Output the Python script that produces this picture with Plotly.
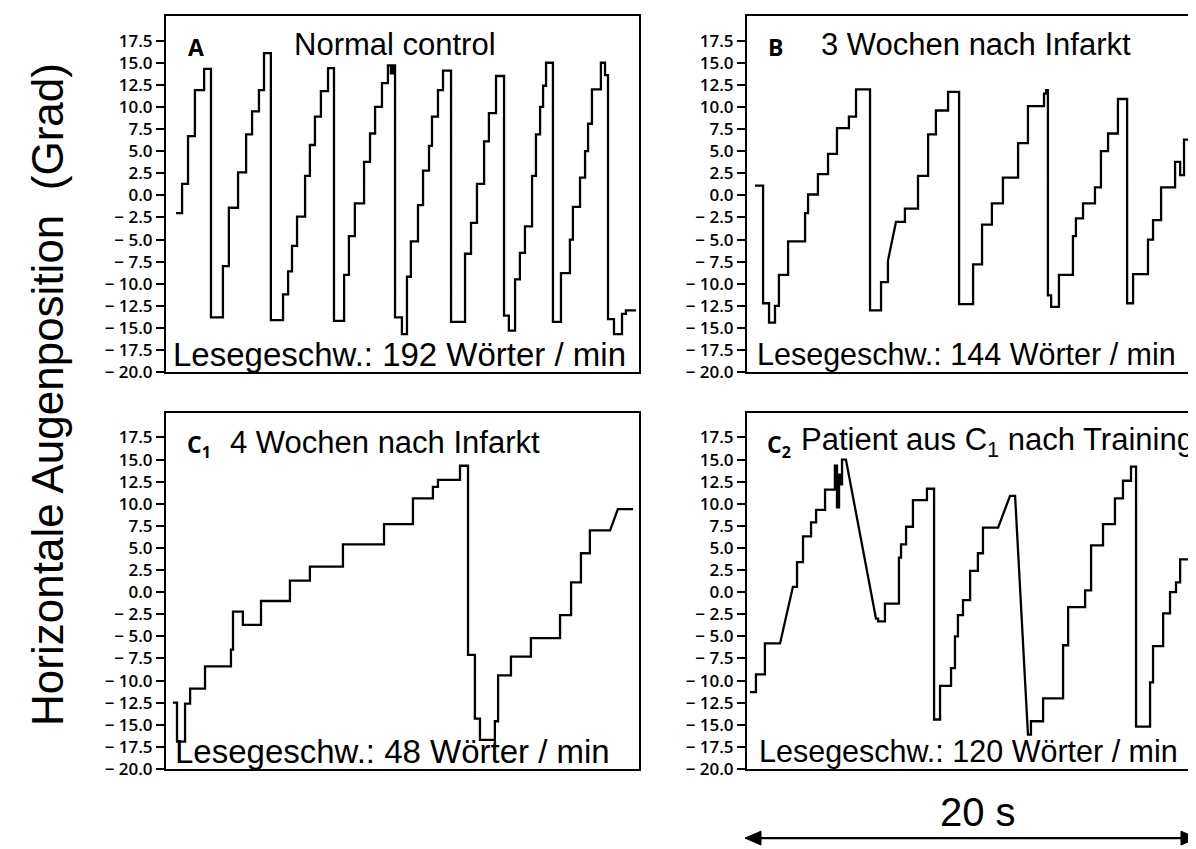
import plotly.graph_objects as go

# ---------------- data (time in s, horizontal eye position in degrees) ----------------
A_t = [0.44, 0.70, 0.96, 1.26, 1.66, 1.96, 2.48, 2.74, 3.14, 3.49, 3.75, 4.05, 4.27, 4.57, 5.10, 5.32,
       5.49, 5.71, 6.06, 6.27, 6.49, 6.75, 7.06, 7.32, 7.76, 7.97, 8.23, 8.63, 8.89, 9.11, 9.41, 9.67,
       9.80, 9.89, 9.98, 10.28, 10.50, 10.67, 10.98, 11.20, 11.46, 11.59, 11.85, 12.07, 12.42, 13.03,
       13.29, 13.55, 13.86, 14.07, 14.38, 14.73, 14.94, 15.21, 15.42, 15.64, 15.95, 16.12, 16.30, 16.43,
       16.56, 16.86, 17.21, 17.60, 17.73, 18.04, 18.26, 18.39, 18.56, 18.95, 19.13, 19.26, 19.52, 19.87,
       20.04, 20.48]
A_deg = [-2.0, 1.3, 6.7, 11.9, 14.3, -13.8, -8.0, -1.4, 2.6, 6.9, 9.5, 11.9, 16.1, -14.1, -11.2, -8.6,
         -5.7, -2.4, 2.2, 5.7, 8.9, 11.8, 14.4, -14.2, -9.0, -4.6, -0.9, 3.8, 7.0, 10.0, 12.7, 14.7,
         13.8, 14.7, -13.8, -15.7, -9.2, -5.2, -1.1, 2.8, 5.6, 8.9, 11.9, 14.1, -14.3, -6.6,
         -3.1, 1.3, 6.1, 9.3, 13.5, -13.6, -15.3, -9.5, -6.5, -3.5, 2.2, 6.9, 10.0, 12.4,
         15.0, -14.3, -8.8, -5.0, -1.3, 2.0, 5.0, 8.1, 12.0, 15.0, 13.6, -14.0, -15.7, -13.4,
         -13.0, -13.0]
A_ramps = []

B_t = [0.35, 0.70, 0.96, 1.22, 1.39, 1.79, 2.53, 2.66, 3.09, 3.53, 3.92, 4.44, 4.75, 5.36, 5.84, 6.14,
       6.49, 6.88, 7.45, 7.89, 8.23, 8.76, 9.24, 9.85, 10.24, 10.67, 11.15, 11.81, 12.24, 12.94, 13.03,
       13.11, 13.25, 13.59, 14.20, 14.33, 14.64, 15.16, 15.42, 15.73, 16.16, 16.56, 16.82, 17.47, 17.69,
       18.04, 18.65, 18.87, 19.04, 19.39, 19.78, 20.0]
B_deg = [1.1, -12.2, -14.4, -12.5, -9.0, -5.2, -2.0, 0.1, 2.4, 4.7, 7.6, 8.9, 12.0, -13.0, -9.8, -7.4,
         -3.0, -1.5, 2.2, 6.9, 9.6, 11.7, -12.3, -7.8, -3.3, -0.9, 2.0, 5.9, 10.1, 11.5, 11.9,
         -11.3, -12.6, -9.0, -4.6, -2.6, -0.9, 0.9, 5.0, 7.0, 10.9, -12.2, -8.9, -5.0, -2.8,
         0.9, 3.8, 2.3, 6.3, 8.1, 9.1, 9.1]
B_ramps = [16]

C1_t = [0.30, 0.48, 0.83, 1.05, 1.70, 2.83, 2.92, 3.35, 4.14, 5.40, 6.27, 7.71, 9.50, 10.76, 11.63, 11.85,
        12.81, 13.16, 13.46, 13.68, 14.33, 14.47, 15.03, 15.90, 17.17, 17.65, 18.08, 18.47, 19.35, 19.69,
        20.35]
C1_deg = [-12.5, -16.9, -12.6, -10.9, -8.4, -6.5, -2.2, -3.7, -1.0, 1.3, 2.9, 5.4, 7.7, 10.6, 11.9, 12.7,
          14.3, -7.1, -14.3, -16.7, -14.6, -9.4, -7.3, -5.2, -2.6, 1.1, 4.4, 7.0, 7.0, 9.4,
          9.4]
C1_ramps = [29]

C2_t = [0.13, 0.39, 0.78, 1.44, 2.00, 2.18, 2.44, 2.79, 3.01, 3.40, 3.83, 3.92, 4.01, 4.10, 4.14, 4.31,
        5.62, 5.71, 6.01, 6.62, 6.71, 6.93, 7.23, 7.84, 8.15, 8.41, 8.89, 9.06, 9.19, 9.41, 9.72, 10.06,
        10.28, 10.94, 11.46, 11.68, 12.24, 12.37, 12.90, 13.77, 13.99, 14.73, 14.99, 15.51, 16.03, 16.38,
        16.73, 16.95, 17.56, 17.69, 18.13, 18.43, 18.69, 18.87, 19.30, 19.43, 19.91]
C2_deg = [-11.3, -9.3, -5.8, -5.8, 0.6, 3.4, 6.3, 7.9, 9.3, 11.6, 14.3, 9.6, 13.3, 12.2, 15.0, 15.0,
          -3.0, -3.3, -1.3, 3.9, 5.4, 7.4, 10.4, 11.7, -14.4, -10.6, -8.6, -5.0, -2.6, -0.9, 2.4, 4.4,
          7.3, 7.3, 10.9, 10.9, -16.1, -14.6, -12.0, -6.0, -1.7, 0.2, 5.3, 7.7, 10.6, 12.6,
          14.2, -15.2, -10.2, -6.1, -2.4, 0.0, 1.1, 3.7, 3.7, 6.5, 3.2]
C2_ramps = [4, 16, 34, 36, 55, 56]

y_ticks = [17.5, 15.0, 12.5, 10.0, 7.5, 5.0, 2.5, 0.0, -2.5, -5.0, -7.5, -10.0, -12.5, -15.0, -17.5, -20.0]
y_range = [-20.0, 20.3]
left_t_range = [0, 20.61]
right_t_range = [0, 19.91]

panel_letters = ["<b>A</b>", "<b>B</b>", "<b>C<sub>1</sub></b>", "<b>C<sub>2</sub></b>"]
panel_titles = ["Normal control", "3 Wochen nach Infarkt", "4 Wochen nach Infarkt",
                "Patient aus C<sub>1</sub> nach Training"]
speeds = [192, 144, 48, 120]
y_title = "Horizontale Augenposition  (Grad)"
scale_label = "20 s"

# ---------------- layout helpers ----------------
W, H = 1196, 849
def px(x):
    return x / W
def py(y):
    return 1 - y / H

def build(t, v, ramps):
    xs, ys = [t[0]], [v[0]]
    for i in range(1, len(t)):
        if i not in ramps:
            xs.append(t[i]); ys.append(v[i - 1])
        xs.append(t[i]); ys.append(v[i])
    return xs, ys

def fmt(v):
    return ("\u2212 %.1f" % abs(v)) if v < 0 else ("%.1f" % v)

fig = go.Figure()
series = [(A_t, A_deg, A_ramps), (B_t, B_deg, B_ramps), (C1_t, C1_deg, C1_ramps), (C2_t, C2_deg, C2_ramps)]
for k, (t, v, r) in enumerate(series):
    xs, ys = build(t, v, r)
    sfx = "" if k == 0 else str(k + 1)
    fig.add_trace(go.Scatter(x=xs, y=ys, mode="lines", xaxis="x" + sfx, yaxis="y" + sfx,
                             line=dict(color="black", width=2.3), hoverinfo="skip", showlegend=False))

tick_font = dict(family="Open Sans, Noto Sans", size=17, color="black", weight=600)
xdom_left = [px(158), px(631)]
xdom_right = [px(739), 1.0]
ydom_top = [py(369), py(8)]
ydom_bot = [py(771), py(410)]
panels = [(xdom_left, ydom_top, left_t_range, True),
          (xdom_right, ydom_top, right_t_range, False),
          (xdom_left, ydom_bot, left_t_range, True),
          (xdom_right, ydom_bot, right_t_range, False)]
layout = {}
for k, (xd, yd, xr, mir) in enumerate(panels):
    sfx = "" if k == 0 else str(k + 1)
    layout["xaxis" + sfx] = dict(domain=xd, range=xr, anchor="y" + sfx, showline=True, mirror=True,
                                 linecolor="black", linewidth=2, showticklabels=False, ticks="",
                                 showgrid=False, zeroline=False, fixedrange=True)
    layout["yaxis" + sfx] = dict(domain=yd, range=y_range, anchor="x" + sfx, showline=True, mirror=mir,
                                 linecolor="black", linewidth=2, ticks="outside", ticklen=8, tickwidth=1.5,
                                 tickcolor="black", tickvals=y_ticks, ticktext=[fmt(v) for v in y_ticks],
                                 tickfont=tick_font, showgrid=False, zeroline=False, fixedrange=True)
fig.update_layout(**layout)

letter_font = dict(family="Open Sans, Noto Sans", size=23, color="black")
ann = []
letter_pos = [(178, 40), (758, 40), (177, 443), (757, 443)]
title_pos = [(284, 37), (811, 37), (220, 440), (791, 440)]
title_size = [31, 31, 31, 31]
speed_pos = [(163, 351), (747, 351), (165, 753), (749, 753)]
speed_size = [33, 30.5, 33, 30.5]
for k in range(4):
    ann.append(dict(x=px(letter_pos[k][0]), y=py(letter_pos[k][1]), xref="paper", yref="paper",
                    text=panel_letters[k], showarrow=False, xanchor="left", yanchor="middle", font=letter_font))
    ann.append(dict(x=px(title_pos[k][0]), y=py(title_pos[k][1]), xref="paper", yref="paper",
                    text=panel_titles[k], showarrow=False, xanchor="left", yanchor="middle",
                    font=dict(family="Liberation Sans, Arial", size=title_size[k], color="black")))
    ann.append(dict(x=px(speed_pos[k][0]), y=py(speed_pos[k][1]), xref="paper", yref="paper",
                    text="Lesegeschw.: %d Wörter / min" % speeds[k], showarrow=False,
                    xanchor="left", yanchor="middle",
                    font=dict(family="Liberation Sans, Arial", size=speed_size[k], color="black")))

ann.append(dict(x=px(40), y=py(392), xref="paper", yref="paper", text=y_title, textangle=-90,
                showarrow=False, xanchor="center", yanchor="middle",
                font=dict(family="Liberation Sans, Arial", size=44, color="black")))
ann.append(dict(x=px(970), y=py(815), xref="paper", yref="paper", text=scale_label, showarrow=False,
                xanchor="center", yanchor="middle",
                font=dict(family="Liberation Sans, Arial", size=40, color="black")))

# double-headed scale arrow (20 s) drawn as shapes
ya = py(841)
hh = 7 / H
shapes = [
    dict(type="line", xref="paper", yref="paper", x0=px(748), x1=px(1178), y0=ya, y1=ya,
         line=dict(color="black", width=2.2)),
    dict(type="path", xref="paper", yref="paper",
         path="M %f %f L %f %f L %f %f Z" % (px(737), ya, px(753), ya + hh, px(753), ya - hh),
         fillcolor="black", line=dict(color="black", width=1)),
    dict(type="path", xref="paper", yref="paper",
         path="M %f %f L %f %f L %f %f Z" % (px(1189), ya, px(1173), ya + hh, px(1173), ya - hh),
         fillcolor="black", line=dict(color="black", width=1)),
]

fig.update_layout(width=W, height=H, margin=dict(l=0, r=0, t=0, b=0), paper_bgcolor="white",
                  plot_bgcolor="white", showlegend=False, annotations=ann, shapes=shapes)
fig.write_html("out.html")
